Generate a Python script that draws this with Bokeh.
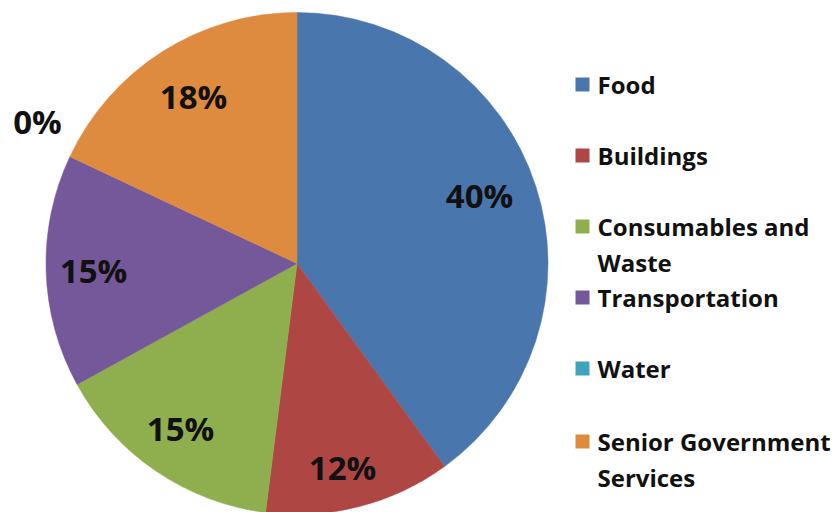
import math
from bokeh.plotting import figure
from bokeh.models import Range1d, ColumnDataSource
from bokeh.core.properties import value
from bokeh.embed import file_html
from bokeh.resources import INLINE

categories = ["Food", "Buildings", "Consumables and Waste", "Transportation", "Water", "Senior Government Services"]
legend_lines = [["Food"], ["Buildings"], ["Consumables and", "Waste"], ["Transportation"], ["Water"], ["Senior Government", "Services"]]
shares = [40, 12, 15, 15, 0, 18]
labels = ["40%", "12%", "15%", "15%", "0%", "18%"]
colors = ["#4A76AE", "#AE4744", "#8FAF4F", "#75589A", "#3FA3BD", "#DE8A3F"]

W, H = 835, 512
p = figure(width=W, height=H, output_backend="svg", toolbar_location=None,
           x_range=Range1d(0, W), y_range=Range1d(0, H), min_border=0)
p.axis.visible = False
p.grid.visible = False
p.outline_line_color = None
p.background_fill_color = "white"

def fx(px):
    return px

def fy(py):
    return H - py

cx, cy, r = fx(296.5), fy(263), 251
total = sum(shares)
starts, ends, cols = [], [], []
cum = 0.0
for s, c in zip(shares, colors):
    a0 = cum / total * 2 * math.pi
    cum += s
    a1 = cum / total * 2 * math.pi
    if s <= 0:
        continue
    # clockwise from 12 o'clock
    starts.append(math.pi / 2 - a1)
    ends.append(math.pi / 2 - a0)
    cols.append(c)

src = ColumnDataSource(dict(start=starts, end=ends, color=cols,
                            x=[cx] * len(cols), y=[cy] * len(cols)))
p.wedge(x="x", y="y", radius=r, start_angle="start", end_angle="end",
        fill_color="color", line_color="color", line_width=0.5, source=src)

# percent labels (page positions)
label_pos = [(479, 195), (342, 467), (180, 428), (93, 270), (37, 121), (193, 96)]
p.text(x=[fx(a) for a, b in label_pos], y=[fy(b) for a, b in label_pos], text=labels,
       text_font=value("Open Sans"), text_font_style="bold", text_font_size="33px",
       text_color="#111111", text_align="center", text_baseline="middle")

# legend
row_y = [84, 155, 226, 297, 368, 441]
line_gap = 36
p.rect(x=[fx(582)] * len(categories), y=[fy(v) for v in row_y], width=14, height=14,
       fill_color=colors, line_color=None)
tx, ty, tt = [], [], []
for yv, lines in zip(row_y, legend_lines):
    for i, ln in enumerate(lines):
        tx.append(fx(597))
        ty.append(fy(yv + i * line_gap))
        tt.append(ln)
p.text(x=tx, y=ty, text=tt, text_font=value("Open Sans"), text_font_style="bold",
       text_font_size="24px", text_color="#111111", text_align="left", text_baseline="middle")

open("out.html", "w").write(file_html(p, INLINE))
